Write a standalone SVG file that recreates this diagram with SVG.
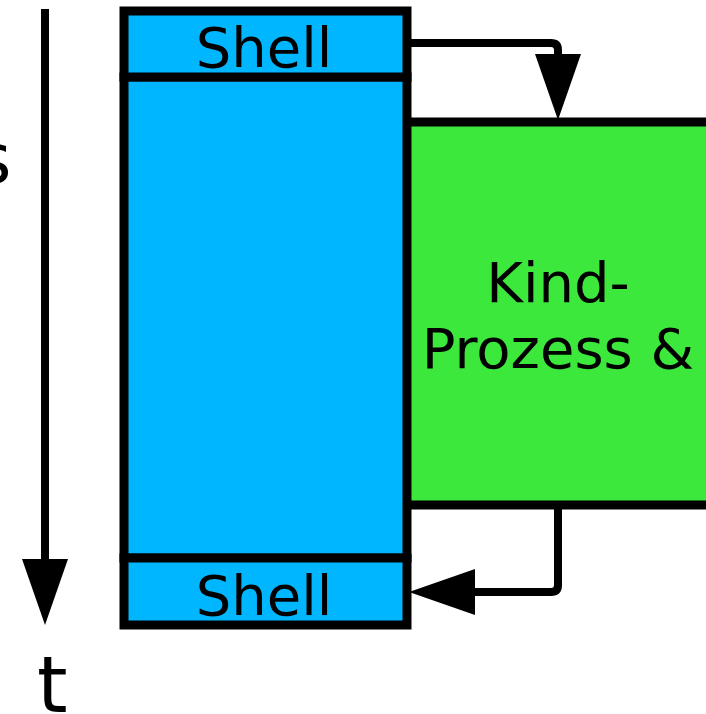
<svg xmlns="http://www.w3.org/2000/svg" width="706" height="714" viewBox="0 0 706 714">
  <style>
    .box { stroke: #000; stroke-width: 9; }
    .blue { fill: #00b6ff; }
    .green { fill: #3de83d; }
    .lbl { font-family: "DejaVu Sans", "Liberation Sans", sans-serif; font-size: 56px; fill: #000; text-anchor: middle; }
    .axis { font-family: "DejaVu Sans", "Liberation Sans", sans-serif; font-size: 70px; fill: #000; }
    .conn { fill: none; stroke: #000; stroke-width: 8; }
  </style>
  <defs>
    <marker id="arrow" markerUnits="userSpaceOnUse" markerWidth="66" markerHeight="46" viewBox="0 0 66 46" refX="0" refY="23" orient="auto">
      <path d="M0,0 L66,23 L0,46 Z" fill="#000"/>
    </marker>
  </defs>

  <g id="time-axis">
    <line class="conn" x1="45" y1="9" x2="45" y2="559" marker-end="url(#arrow)"/>
    <text class="axis" x="-25" y="183">s</text>
    <text class="axis" x="37" y="712" style="font-size:78px">t</text>
  </g>

  <g id="kind-prozess">
    <rect class="box green" x="405" y="122" width="320" height="383"/>
    <text class="lbl" x="558" y="302">Kind-</text>
    <text class="lbl" x="558" y="368">Prozess &amp;</text>
  </g>

  <g id="parent-process">
    <rect class="box blue" x="124" y="77" width="283" height="481"/>
  </g>

  <g id="shell-top">
    <rect class="box blue" x="124" y="11" width="283" height="66"/>
    <text class="lbl" x="264" y="67">Shell</text>
  </g>

  <g id="shell-bottom">
    <rect class="box blue" x="124" y="558" width="283" height="67"/>
    <text class="lbl" x="264" y="615">Shell</text>
  </g>

  <g id="connectors">
    <path class="conn" d="M411,43 H551 Q558,43 558,50 V54" marker-end="url(#arrow)"/>
    <path class="conn" d="M558,509 V585 Q558,592 551,592 H475" marker-end="url(#arrow)"/>
  </g>
</svg>
